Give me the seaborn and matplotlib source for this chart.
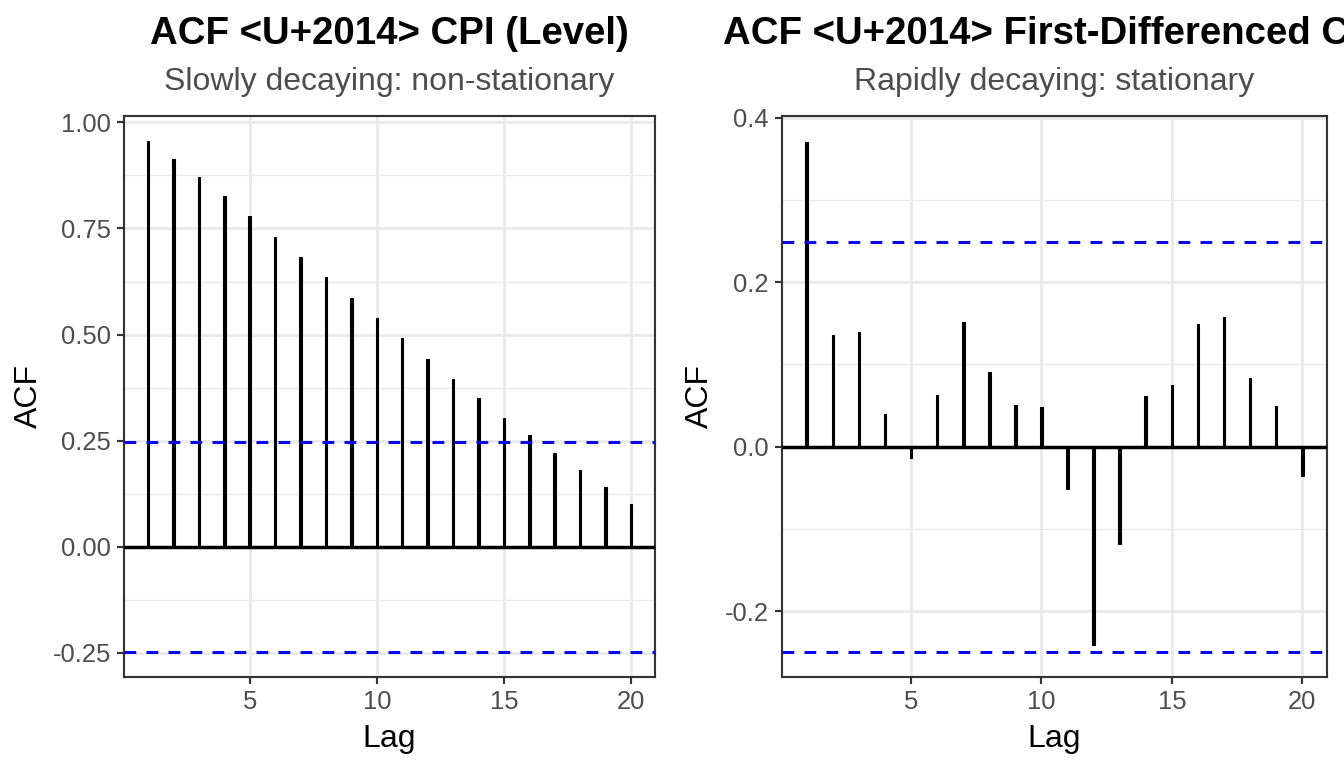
import numpy as np
import pandas as pd
import matplotlib
matplotlib.use("Agg")
import matplotlib.pyplot as plt
import seaborn as sns

# ACF values
lags = list(range(1, 21))
acf_level = [0.955, 0.913, 0.872, 0.826, 0.779, 0.730, 0.682, 0.635, 0.587, 0.539,
             0.491, 0.443, 0.396, 0.350, 0.304, 0.263, 0.221, 0.180, 0.140, 0.101]
acf_diff = [0.371, 0.136, 0.139, 0.040, -0.014, 0.063, 0.152, 0.091, 0.051, 0.048,
            -0.051, -0.241, -0.118, 0.061, 0.075, 0.149, 0.158, 0.084, 0.049, -0.036]
ci_level = 0.247
ci_diff = 0.249

titles = ["ACF <U+2014> CPI (Level)", "ACF <U+2014> First-Differenced CPI"]
subtitles = ["Slowly decaying: non-stationary", "Rapidly decaying: stationary"]

sns.set_theme(style="white")
plt.rcParams['font.family'] = ['Liberation Sans', 'DejaVu Sans']

fig = plt.figure(figsize=(7, 4), dpi=192)
ax1 = fig.add_axes([124 / 1344, 1 - 677 / 768, 531 / 1344, 561 / 768])
ax2 = fig.add_axes([782 / 1344, 1 - 677 / 768, 545 / 1344, 561 / 768])

panels = [
    (ax1, acf_level, ci_level, [-0.25, 0, 0.25, 0.5, 0.75, 1.0],
     ["-0.25", "0.00", "0.25", "0.50", "0.75", "1.00"]),
    (ax2, acf_diff, ci_diff, [-0.2, 0, 0.2, 0.4], ["-0.2", "0.0", "0.2", "0.4"]),
]

for i, (ax, vals, ci, yt, ytl) in enumerate(panels):
    df = pd.DataFrame({"Lag": lags, "ACF": vals})
    lo = min(min(vals), -ci)
    hi = max(max(vals), ci)
    pad = (hi - lo) * 0.05
    ax.set_ylim(lo - pad, hi + pad)
    ax.set_yticks(yt)
    ax.set_yticklabels(ytl)
    step = yt[1] - yt[0]
    minors = [t + step / 2 for t in [yt[0] - step] + yt]
    ax.set_yticks([m for m in minors if lo - pad < m < hi + pad], minor=True)
    ax.grid(True, which="major", color="#EBEBEB", lw=1.1, zorder=0)
    ax.grid(True, which="minor", axis="y", color="#EBEBEB", lw=0.55, zorder=0)
    ax.set_axisbelow(True)

    sns.barplot(data=df, x="Lag", y="ACF", native_scale=True, width=0.1,
                color="black", saturation=1, edgecolor="black", linewidth=0.4,
                ax=ax, zorder=2)
    ax.set_xlim(1 - 0.95, 20 + 0.95)
    ax.set_xticks([5, 10, 15, 20])
    ax.set_xticklabels(["5", "10", "15", "20"])

    ax.axhline(0, color="black", lw=1.3, zorder=3)
    for c in (ci, -ci):
        ax.axhline(c, color="#0000FF", lw=1.1, ls=(0, (4, 3.5)), zorder=3)

    for sp in ax.spines.values():
        sp.set_visible(True)
        sp.set_color("#333333")
        sp.set_linewidth(0.8)
    ax.tick_params(axis="both", which="major", direction="out", length=2.75, width=0.8,
                   color="#333333", labelcolor="#4D4D4D", labelsize=9.6, pad=2.2,
                   bottom=True, left=True)
    ax.tick_params(axis="both", which="minor", length=0)

    ax.set_xlabel("Lag", fontsize=12, color="black")
    ax.set_ylabel("ACF", fontsize=12, color="black")
    ax.xaxis.set_label_coords(0.5, -0.083)

    cx = (ax.get_position().x0 + ax.get_position().x1) / 2
    fig.text(cx, 1 - 44 / 768, titles[i], ha="center", va="baseline",
             fontsize=14.4, fontweight="bold", color="black")
    fig.text(cx, 1 - 90 / 768, subtitles[i], ha="center", va="baseline",
             fontsize=12, color="#4D4D4D")

ax1.yaxis.set_label_coords(-0.1505, 0.5)
ax2.yaxis.set_label_coords(-0.1225, 0.5)

fig.savefig("out.png", dpi=192, facecolor="white")
